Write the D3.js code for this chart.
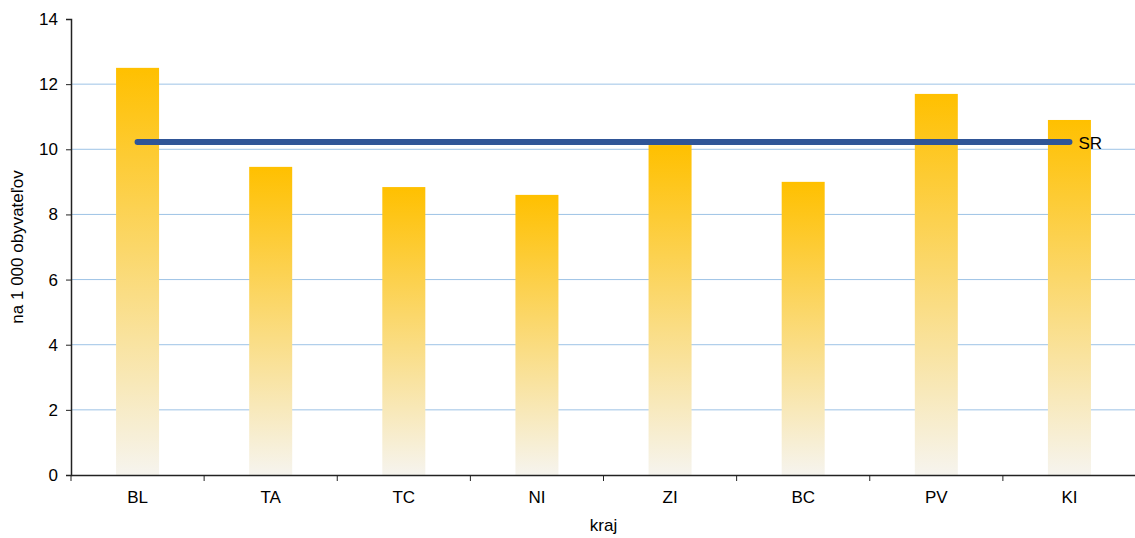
<!DOCTYPE html>
<html><head><meta charset="utf-8">
<script src="https://cdn.jsdelivr.net/npm/d3@7"></script>
<style>body{margin:0;background:#fff}svg{display:block;font-family:Arial,"Liberation Sans",sans-serif}</style>
</head><body><svg id="c" width="1135" height="538"></svg>
<script>
const categories = ["BL","TA","TC","NI","ZI","BC","PV","KI"];
const values = [12.5, 9.46, 8.84, 8.6, 10.13, 9.0, 11.7, 10.9];
const srValue = 10.22;
const srLabel = "SR";
const yTicks = [0,2,4,6,8,10,12,14];
const yTitle = "na 1 000 obyvateľov";
const xTitle = "kraj";

const FS = 17;
const svg = d3.select("#c");
const m = {l:71, r:1136, t:19, b:475};
const xb = d3.scaleBand().domain(categories).range([m.l, m.r]);
const y = d3.scaleLinear().domain([0,14]).range([m.b, m.t]);

const defs = svg.append("defs");
const g = defs.append("linearGradient").attr("id","bg").attr("x1",0).attr("y1",0).attr("x2",0).attr("y2",1);
g.append("stop").attr("offset","0%").attr("stop-color","#FFC000");
g.append("stop").attr("offset","100%").attr("stop-color","#F6F4EE");

// grid
svg.append("g").selectAll("line").data(yTicks.filter(d=>d>0 && d<14)).join("line")
  .attr("x1",m.l).attr("x2",m.r).attr("y1",d=>y(d)).attr("y2",d=>y(d))
  .attr("stroke","#9DC3E6").attr("stroke-width",1);

// bars
svg.append("g").selectAll("rect").data(values).join("rect")
  .attr("x",(d,i)=>xb(categories[i]) + (xb.bandwidth()-43)/2)
  .attr("width",43)
  .attr("y",d=>y(d)).attr("height",d=>y(0)-y(d))
  .attr("fill","url(#bg)");

// SR line
svg.append("line")
  .attr("x1",xb(categories[0])+xb.bandwidth()/2)
  .attr("x2",xb(categories[categories.length-1])+xb.bandwidth()/2)
  .attr("y1",y(srValue)).attr("y2",y(srValue))
  .attr("stroke","#2F5597").attr("stroke-width",6).attr("stroke-linecap","round");
svg.append("text").attr("x",xb(categories[categories.length-1])+xb.bandwidth()/2+9)
  .attr("y",y(srValue)+7).attr("font-size",FS).attr("fill","#000").text(srLabel);

// axes
const ya = svg.append("g").attr("transform",`translate(${m.l},0)`)
  .call(d3.axisLeft(y).tickValues(yTicks).tickSize(5).tickPadding(8).tickFormat(d3.format("d")));
ya.select(".domain").attr("stroke","#222").attr("stroke-width",1.5);
ya.selectAll(".tick line").attr("stroke","#222");
ya.selectAll("text").attr("font-size",FS).attr("fill","#000").attr("font-family","Arial, 'Liberation Sans', sans-serif");

const xa = svg.append("g").attr("transform",`translate(0,${m.b})`)
  .call(d3.axisBottom(xb).tickSize(0).tickPadding(16));
xa.select(".domain").attr("stroke","#222").attr("stroke-width",1.5);
xa.selectAll("text").attr("font-size",FS).attr("fill","#000").attr("font-family","Arial, 'Liberation Sans', sans-serif");
// category boundary ticks
svg.append("g").selectAll("line").data(categories.slice(1)).join("line")
  .attr("x1",d=>xb(d)).attr("x2",d=>xb(d)).attr("y1",m.b).attr("y2",m.b+6)
  .attr("stroke","#222");
svg.append("line").attr("x1",m.l).attr("x2",m.l).attr("y1",m.b).attr("y2",m.b+6).attr("stroke","#222");

svg.append("text").attr("x",(m.l+m.r)/2).attr("y",531).attr("text-anchor","middle")
  .attr("font-size",FS).text(xTitle);
svg.append("text").attr("transform",`translate(23,${(m.t+m.b)/2}) rotate(-90)`).attr("text-anchor","middle")
  .attr("font-size",FS).text(yTitle);
</script></body></html>
